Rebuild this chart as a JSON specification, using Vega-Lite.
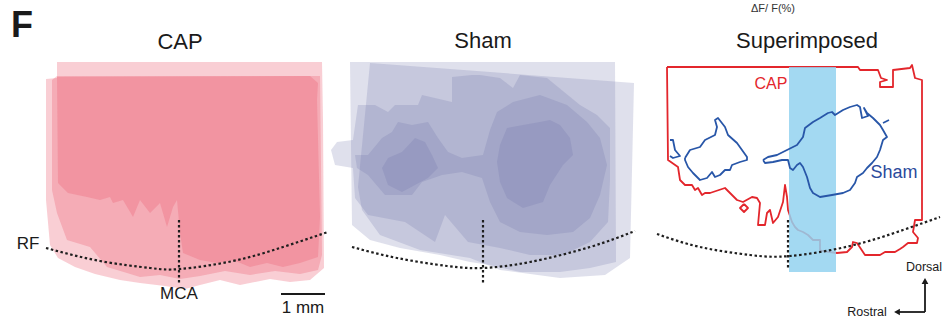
{
  "$schema": "https://vega.github.io/schema/vega-lite/v6.json",
  "width": 945,
  "height": 322,
  "autosize": {"type": "none"},
  "padding": 0,
  "background": "white",
  "config": {"view": {"stroke": null}, "font": "Liberation Sans"},
  "datasets": {
    "pink": [
      {"p":"P1","x":57,"y":62},{"p":"P1","x":322,"y":62},{"p":"P1","x":323,"y":120},{"p":"P1","x":324,"y":268},{"p":"P1","x":310,"y":280},{"p":"P1","x":290,"y":282},{"p":"P1","x":270,"y":279},{"p":"P1","x":240,"y":285},{"p":"P1","x":220,"y":280},{"p":"P1","x":200,"y":285},{"p":"P1","x":185,"y":289},{"p":"P1","x":165,"y":286},{"p":"P1","x":140,"y":283},{"p":"P1","x":120,"y":280},{"p":"P1","x":95,"y":274},{"p":"P1","x":75,"y":267},{"p":"P1","x":58,"y":258},{"p":"P1","x":50,"y":245},{"p":"P1","x":46,"y":200},{"p":"P1","x":46,"y":79},{"p":"P1","x":57,"y":78},
      {"p":"P2","x":57,"y":76},{"p":"P2","x":320,"y":76},{"p":"P2","x":322,"y":255},{"p":"P2","x":318,"y":270},{"p":"P2","x":300,"y":274},{"p":"P2","x":275,"y":271},{"p":"P2","x":250,"y":275},{"p":"P2","x":225,"y":271},{"p":"P2","x":200,"y":276},{"p":"P2","x":180,"y":279},{"p":"P2","x":160,"y":275},{"p":"P2","x":140,"y":277},{"p":"P2","x":127,"y":273},{"p":"P2","x":107,"y":267},{"p":"P2","x":90,"y":247},{"p":"P2","x":67,"y":240},{"p":"P2","x":57,"y":213},{"p":"P2","x":52,"y":190},{"p":"P2","x":52,"y":80},
      {"p":"P3","x":57,"y":77},{"p":"P3","x":310,"y":76},{"p":"P3","x":318,"y":83},{"p":"P3","x":317,"y":100},{"p":"P3","x":320,"y":217},{"p":"P3","x":318,"y":257},{"p":"P3","x":300,"y":263},{"p":"P3","x":283,"y":267},{"p":"P3","x":267,"y":263},{"p":"P3","x":250,"y":267},{"p":"P3","x":233,"y":260},{"p":"P3","x":217,"y":263},{"p":"P3","x":200,"y":260},{"p":"P3","x":183,"y":253},{"p":"P3","x":180,"y":233},{"p":"P3","x":177,"y":200},{"p":"P3","x":173,"y":207},{"p":"P3","x":167,"y":227},{"p":"P3","x":160,"y":203},{"p":"P3","x":150,"y":213},{"p":"P3","x":140,"y":200},{"p":"P3","x":133,"y":217},{"p":"P3","x":123,"y":200},{"p":"P3","x":113,"y":203},{"p":"P3","x":110,"y":197},{"p":"P3","x":100,"y":200},{"p":"P3","x":87,"y":197},{"p":"P3","x":68,"y":193},{"p":"P3","x":58,"y":183}
    ],
    "sham": [
      {"p":"S1","x":350,"y":62},{"p":"S1","x":615,"y":62},{"p":"S1","x":616,"y":262},{"p":"S1","x":590,"y":268},{"p":"S1","x":560,"y":272},{"p":"S1","x":520,"y":272},{"p":"S1","x":490,"y":265},{"p":"S1","x":470,"y":262},{"p":"S1","x":440,"y":255},{"p":"S1","x":400,"y":248},{"p":"S1","x":370,"y":240},{"p":"S1","x":352,"y":225},
      {"p":"S2","x":370,"y":63},{"p":"S2","x":634,"y":83},{"p":"S2","x":630,"y":258},{"p":"S2","x":605,"y":275},{"p":"S2","x":560,"y":278},{"p":"S2","x":500,"y":270},{"p":"S2","x":470,"y":258},{"p":"S2","x":420,"y":250},{"p":"S2","x":380,"y":235},{"p":"S2","x":362,"y":210},{"p":"S2","x":358,"y":187},
      {"p":"S3","x":358,"y":105},{"p":"S3","x":375,"y":105},{"p":"S3","x":388,"y":112},{"p":"S3","x":395,"y":105},{"p":"S3","x":418,"y":105},{"p":"S3","x":422,"y":95},{"p":"S3","x":452,"y":102},{"p":"S3","x":452,"y":77},{"p":"S3","x":472,"y":75},{"p":"S3","x":480,"y":75},{"p":"S3","x":500,"y":78},{"p":"S3","x":513,"y":88},{"p":"S3","x":520,"y":75},{"p":"S3","x":547,"y":78},{"p":"S3","x":580,"y":105},{"p":"S3","x":597,"y":115},{"p":"S3","x":610,"y":128},{"p":"S3","x":610,"y":180},{"p":"S3","x":608,"y":222},{"p":"S3","x":590,"y":242},{"p":"S3","x":563,"y":255},{"p":"S3","x":530,"y":255},{"p":"S3","x":500,"y":248},{"p":"S3","x":468,"y":242},{"p":"S3","x":445,"y":215},{"p":"S3","x":435,"y":242},{"p":"S3","x":405,"y":222},{"p":"S3","x":368,"y":215},{"p":"S3","x":355,"y":198},{"p":"S3","x":353,"y":168},{"p":"S3","x":335,"y":165},{"p":"S3","x":331,"y":150},{"p":"S3","x":337,"y":142},{"p":"S3","x":353,"y":140},
      {"p":"S4","x":355,"y":155},{"p":"S4","x":368,"y":155},{"p":"S4","x":382,"y":138},{"p":"S4","x":392,"y":132},{"p":"S4","x":398,"y":122},{"p":"S4","x":412,"y":125},{"p":"S4","x":428,"y":122},{"p":"S4","x":438,"y":138},{"p":"S4","x":448,"y":152},{"p":"S4","x":462,"y":158},{"p":"S4","x":483,"y":155},{"p":"S4","x":490,"y":130},{"p":"S4","x":497,"y":112},{"p":"S4","x":513,"y":102},{"p":"S4","x":540,"y":95},{"p":"S4","x":567,"y":105},{"p":"S4","x":587,"y":122},{"p":"S4","x":600,"y":138},{"p":"S4","x":607,"y":165},{"p":"S4","x":600,"y":195},{"p":"S4","x":590,"y":218},{"p":"S4","x":573,"y":232},{"p":"S4","x":547,"y":235},{"p":"S4","x":520,"y":232},{"p":"S4","x":500,"y":222},{"p":"S4","x":490,"y":202},{"p":"S4","x":482,"y":178},{"p":"S4","x":462,"y":172},{"p":"S4","x":442,"y":175},{"p":"S4","x":422,"y":182},{"p":"S4","x":412,"y":195},{"p":"S4","x":385,"y":195},{"p":"S4","x":368,"y":175},{"p":"S4","x":357,"y":168},
      {"p":"S5a","x":382,"y":168},{"p":"S5a","x":388,"y":158},{"p":"S5a","x":402,"y":152},{"p":"S5a","x":415,"y":138},{"p":"S5a","x":425,"y":142},{"p":"S5a","x":432,"y":155},{"p":"S5a","x":438,"y":168},{"p":"S5a","x":428,"y":178},{"p":"S5a","x":415,"y":185},{"p":"S5a","x":402,"y":192},{"p":"S5a","x":388,"y":185},
      {"p":"S5b","x":500,"y":145},{"p":"S5b","x":507,"y":128},{"p":"S5b","x":523,"y":125},{"p":"S5b","x":540,"y":122},{"p":"S5b","x":550,"y":120},{"p":"S5b","x":560,"y":125},{"p":"S5b","x":570,"y":138},{"p":"S5b","x":573,"y":155},{"p":"S5b","x":563,"y":165},{"p":"S5b","x":550,"y":185},{"p":"S5b","x":543,"y":202},{"p":"S5b","x":523,"y":208},{"p":"S5b","x":507,"y":198},{"p":"S5b","x":500,"y":182},{"p":"S5b","x":497,"y":162}
    ],
    "capline": [
      {"p":"R1","x":667,"y":67},{"p":"R1","x":858,"y":67},{"p":"R1","x":860,"y":70},{"p":"R1","x":878,"y":70},{"p":"R1","x":881,"y":78},{"p":"R1","x":887,"y":80},{"p":"R1","x":880,"y":82},{"p":"R1","x":880,"y":87},{"p":"R1","x":893,"y":87},{"p":"R1","x":893,"y":70},{"p":"R1","x":910,"y":68},{"p":"R1","x":912,"y":65},{"p":"R1","x":915,"y":78},{"p":"R1","x":922,"y":80},{"p":"R1","x":922,"y":220},{"p":"R1","x":915,"y":220},{"p":"R1","x":913,"y":232},{"p":"R1","x":918,"y":238},{"p":"R1","x":917,"y":243},{"p":"R1","x":908,"y":243},{"p":"R1","x":903,"y":247},{"p":"R1","x":900,"y":249},{"p":"R1","x":895,"y":252},{"p":"R1","x":885,"y":252},{"p":"R1","x":880,"y":255},{"p":"R1","x":865,"y":255},{"p":"R1","x":857,"y":243},{"p":"R1","x":853,"y":242},{"p":"R1","x":852,"y":247},{"p":"R1","x":847,"y":252},{"p":"R1","x":837,"y":253},{"p":"R1","x":822,"y":251},{"p":"R1","x":820,"y":250},{"p":"R1","x":820,"y":240},{"p":"R1","x":813,"y":240},{"p":"R1","x":808,"y":235},{"p":"R1","x":803,"y":232},{"p":"R1","x":798,"y":230},{"p":"R1","x":795,"y":227},{"p":"R1","x":792,"y":222},{"p":"R1","x":788,"y":210},{"p":"R1","x":787,"y":197},{"p":"R1","x":785,"y":185},{"p":"R1","x":783,"y":202},{"p":"R1","x":778,"y":217},{"p":"R1","x":773,"y":223},{"p":"R1","x":770,"y":210},{"p":"R1","x":767,"y":213},{"p":"R1","x":765,"y":225},{"p":"R1","x":758,"y":225},{"p":"R1","x":760,"y":203},{"p":"R1","x":757,"y":198},{"p":"R1","x":752,"y":197},{"p":"R1","x":743,"y":202},{"p":"R1","x":737,"y":200},{"p":"R1","x":725,"y":188},{"p":"R1","x":710,"y":193},{"p":"R1","x":705,"y":193},{"p":"R1","x":702,"y":195},{"p":"R1","x":698,"y":188},{"p":"R1","x":695,"y":190},{"p":"R1","x":692,"y":185},{"p":"R1","x":685,"y":185},{"p":"R1","x":680,"y":180},{"p":"R1","x":678,"y":167},{"p":"R1","x":668,"y":160},{"p":"R1","x":667,"y":67},
      {"p":"R2","x":744,"y":204},{"p":"R2","x":748,"y":208},{"p":"R2","x":744,"y":212},{"p":"R2","x":740,"y":208},{"p":"R2","x":744,"y":204}
    ],
    "shamline": [
      {"p":"B1","x":685,"y":158},{"p":"B1","x":690,"y":150},{"p":"B1","x":700,"y":147},{"p":"B1","x":705,"y":140},{"p":"B1","x":715,"y":135},{"p":"B1","x":717,"y":127},{"p":"B1","x":715,"y":120},{"p":"B1","x":718,"y":118},{"p":"B1","x":725,"y":127},{"p":"B1","x":728,"y":135},{"p":"B1","x":737,"y":143},{"p":"B1","x":742,"y":150},{"p":"B1","x":747,"y":157},{"p":"B1","x":747,"y":160},{"p":"B1","x":740,"y":162},{"p":"B1","x":732,"y":165},{"p":"B1","x":730,"y":170},{"p":"B1","x":725,"y":170},{"p":"B1","x":720,"y":175},{"p":"B1","x":715,"y":177},{"p":"B1","x":712,"y":172},{"p":"B1","x":707,"y":178},{"p":"B1","x":700,"y":180},{"p":"B1","x":693,"y":173},{"p":"B1","x":688,"y":167},{"p":"B1","x":685,"y":160},{"p":"B1","x":685,"y":158},
      {"p":"B2","x":670,"y":140},{"p":"B2","x":673,"y":140},{"p":"B2","x":675,"y":150},{"p":"B2","x":680,"y":156},{"p":"B2","x":673,"y":158},{"p":"B2","x":670,"y":156},
      {"p":"B3","x":763,"y":160},{"p":"B3","x":768,"y":157},{"p":"B3","x":777,"y":155},{"p":"B3","x":787,"y":150},{"p":"B3","x":797,"y":145},{"p":"B3","x":803,"y":137},{"p":"B3","x":805,"y":128},{"p":"B3","x":813,"y":122},{"p":"B3","x":820,"y":118},{"p":"B3","x":828,"y":113},{"p":"B3","x":832,"y":112},{"p":"B3","x":835,"y":115},{"p":"B3","x":843,"y":110},{"p":"B3","x":850,"y":107},{"p":"B3","x":857,"y":105},{"p":"B3","x":860,"y":107},{"p":"B3","x":862,"y":118},{"p":"B3","x":868,"y":116},{"p":"B3","x":864,"y":108},{"p":"B3","x":867,"y":113},{"p":"B3","x":873,"y":118},{"p":"B3","x":880,"y":125},{"p":"B3","x":883,"y":130},{"p":"B3","x":887,"y":137},{"p":"B3","x":883,"y":140},{"p":"B3","x":880,"y":150},{"p":"B3","x":877,"y":157},{"p":"B3","x":872,"y":163},{"p":"B3","x":867,"y":168},{"p":"B3","x":863,"y":173},{"p":"B3","x":857,"y":177},{"p":"B3","x":855,"y":183},{"p":"B3","x":850,"y":190},{"p":"B3","x":843,"y":193},{"p":"B3","x":832,"y":195},{"p":"B3","x":820,"y":197},{"p":"B3","x":813,"y":193},{"p":"B3","x":810,"y":188},{"p":"B3","x":807,"y":177},{"p":"B3","x":803,"y":167},{"p":"B3","x":800,"y":163},{"p":"B3","x":797,"y":165},{"p":"B3","x":793,"y":170},{"p":"B3","x":790,"y":168},{"p":"B3","x":788,"y":160},{"p":"B3","x":782,"y":160},{"p":"B3","x":773,"y":162},{"p":"B3","x":765,"y":163},{"p":"B3","x":763,"y":160},
      {"p":"B4","x":883,"y":123},{"p":"B4","x":889,"y":120}
    ],
    "curves": [
      {"p":"C1","x":46,"y":248},{"p":"C1","x":100,"y":261},{"p":"C1","x":150,"y":268},{"p":"C1","x":180,"y":269},{"p":"C1","x":233,"y":261},{"p":"C1","x":283,"y":247},{"p":"C1","x":328,"y":232},
      {"p":"C2","x":352,"y":247},{"p":"C2","x":397,"y":258},{"p":"C2","x":447,"y":266},{"p":"C2","x":483,"y":268},{"p":"C2","x":530,"y":262},{"p":"C2","x":590,"y":247},{"p":"C2","x":635,"y":231},
      {"p":"C3","x":657,"y":234},{"p":"C3","x":700,"y":247},{"p":"C3","x":750,"y":255},{"p":"C3","x":790,"y":256},{"p":"C3","x":850,"y":246},{"p":"C3","x":903,"y":230},{"p":"C3","x":940,"y":217}
    ]
  },
  "encoding": {
    "x": {"field": "x", "type": "quantitative", "scale": {"domain": [0, 945], "nice": false, "zero": false}, "axis": null},
    "y": {"field": "y", "type": "quantitative", "scale": {"domain": [0, 322], "nice": false, "zero": false, "reverse": true}, "axis": null}
  },
  "layer": [
    {
      "data": {"name": "pink"},
      "mark": {"type": "line", "fill": "#eb5c70", "fillOpacity": 0.3, "strokeWidth": 0, "strokeOpacity": 0},
      "encoding": {"detail": {"field": "p"}, "order": {"value": null}}
    },
    {
      "data": {"name": "sham"},
      "mark": {"type": "line", "fill": "#6e73a8", "fillOpacity": 0.22, "strokeWidth": 0, "strokeOpacity": 0},
      "encoding": {"detail": {"field": "p"}, "order": {"value": null}}
    },
    {
      "data": {"name": "capline"},
      "mark": {"type": "line", "stroke": "#e3262c", "strokeWidth": 1.8, "strokeJoin": "round"},
      "encoding": {"detail": {"field": "p"}, "order": {"value": null}}
    },
    {
      "data": {"values": [{"x": 789, "x2": 836, "y": 67, "y2": 272}]},
      "mark": {"type": "rect", "fill": "#93d2f0", "opacity": 0.85},
      "encoding": {"x2": {"field": "x2"}, "y2": {"field": "y2"}}
    },
    {
      "data": {"name": "shamline"},
      "mark": {"type": "line", "stroke": "#2856a8", "strokeWidth": 1.8, "strokeJoin": "round"},
      "encoding": {"detail": {"field": "p"}, "order": {"value": null}}
    },
    {
      "data": {"name": "curves"},
      "mark": {"type": "line", "stroke": "#1e1e1e", "strokeWidth": 2.2, "strokeDash": [2.5, 2.5], "interpolate": "natural"},
      "encoding": {"detail": {"field": "p"}, "order": {"value": null}}
    },
    {
      "data": {"values": [{"x": 179, "y": 220, "y2": 284}, {"x": 483, "y": 220, "y2": 284}, {"x": 788, "y": 220, "y2": 270}]},
      "mark": {"type": "rule", "stroke": "#1e1e1e", "strokeWidth": 2.2, "strokeDash": [2.5, 2.5]},
      "encoding": {"y2": {"field": "y2"}}
    },
    {
      "data": {"values": [{"x": 281, "x2": 325, "y": 294}, {"x": 899, "x2": 925, "y": 312}]},
      "mark": {"type": "rule", "stroke": "#1a1a1a", "strokeWidth": 1.8},
      "encoding": {"x2": {"field": "x2"}}
    },
    {
      "data": {"values": [{"x": 925, "y": 284, "y2": 312}]},
      "mark": {"type": "rule", "stroke": "#1a1a1a", "strokeWidth": 1.8},
      "encoding": {"y2": {"field": "y2"}}
    },
    {
      "data": {"values": [{"x": 925, "y": 281, "dir": "up"}, {"x": 897, "y": 312, "dir": "left"}]},
      "mark": {"type": "point", "filled": true, "color": "#1a1a1a", "opacity": 1, "size": 45},
      "encoding": {"shape": {"field": "dir", "type": "nominal", "scale": {"domain": ["up", "left"], "range": ["triangle-up", "triangle-left"]}, "legend": null}}
    },
    {
      "data": {"values": [{"x": 22, "y": 26, "t": "F"}]},
      "mark": {"type": "text", "fontSize": 36, "fontWeight": "bold", "font": "Liberation Sans", "baseline": "middle", "align": "center", "color": "#1a1a1a"},
      "encoding": {"text": {"field": "t"}}
    },
    {
      "data": {"values": [{"x": 180, "y": 42, "t": "CAP"}, {"x": 483, "y": 41, "t": "Sham"}, {"x": 807, "y": 41, "t": "Superimposed"}]},
      "mark": {"type": "text", "fontSize": 22, "font": "Liberation Sans", "baseline": "middle", "align": "center", "color": "#1a1a1a"},
      "encoding": {"text": {"field": "t"}}
    },
    {
      "data": {"values": [{"x": 28, "y": 244, "t": "RF"}, {"x": 179, "y": 294, "t": "MCA"}, {"x": 303, "y": 308, "t": "1 mm"}]},
      "mark": {"type": "text", "fontSize": 17, "font": "Liberation Sans", "baseline": "middle", "align": "center", "color": "#1a1a1a"},
      "encoding": {"text": {"field": "t"}}
    },
    {
      "data": {"values": [{"x": 773, "y": 9, "t": "ΔF/ F(%)"}]},
      "mark": {"type": "text", "fontSize": 11, "font": "Liberation Sans", "baseline": "middle", "align": "center", "color": "#333333"},
      "encoding": {"text": {"field": "t"}}
    },
    {
      "data": {"values": [{"x": 924, "y": 267, "t": "Dorsal"}, {"x": 867, "y": 312, "t": "Rostral"}]},
      "mark": {"type": "text", "fontSize": 12.5, "font": "Liberation Sans", "baseline": "middle", "align": "center", "color": "#1a1a1a"},
      "encoding": {"text": {"field": "t"}}
    },
    {
      "data": {"values": [{"x": 771, "y": 84, "t": "CAP"}]},
      "mark": {"type": "text", "fontSize": 16, "font": "Liberation Sans", "baseline": "middle", "align": "center", "color": "#e3262c"},
      "encoding": {"text": {"field": "t"}}
    },
    {
      "data": {"values": [{"x": 894, "y": 173, "t": "Sham"}]},
      "mark": {"type": "text", "fontSize": 18, "font": "Liberation Sans", "baseline": "middle", "align": "center", "color": "#2b4a9c"},
      "encoding": {"text": {"field": "t"}}
    }
  ]
}
